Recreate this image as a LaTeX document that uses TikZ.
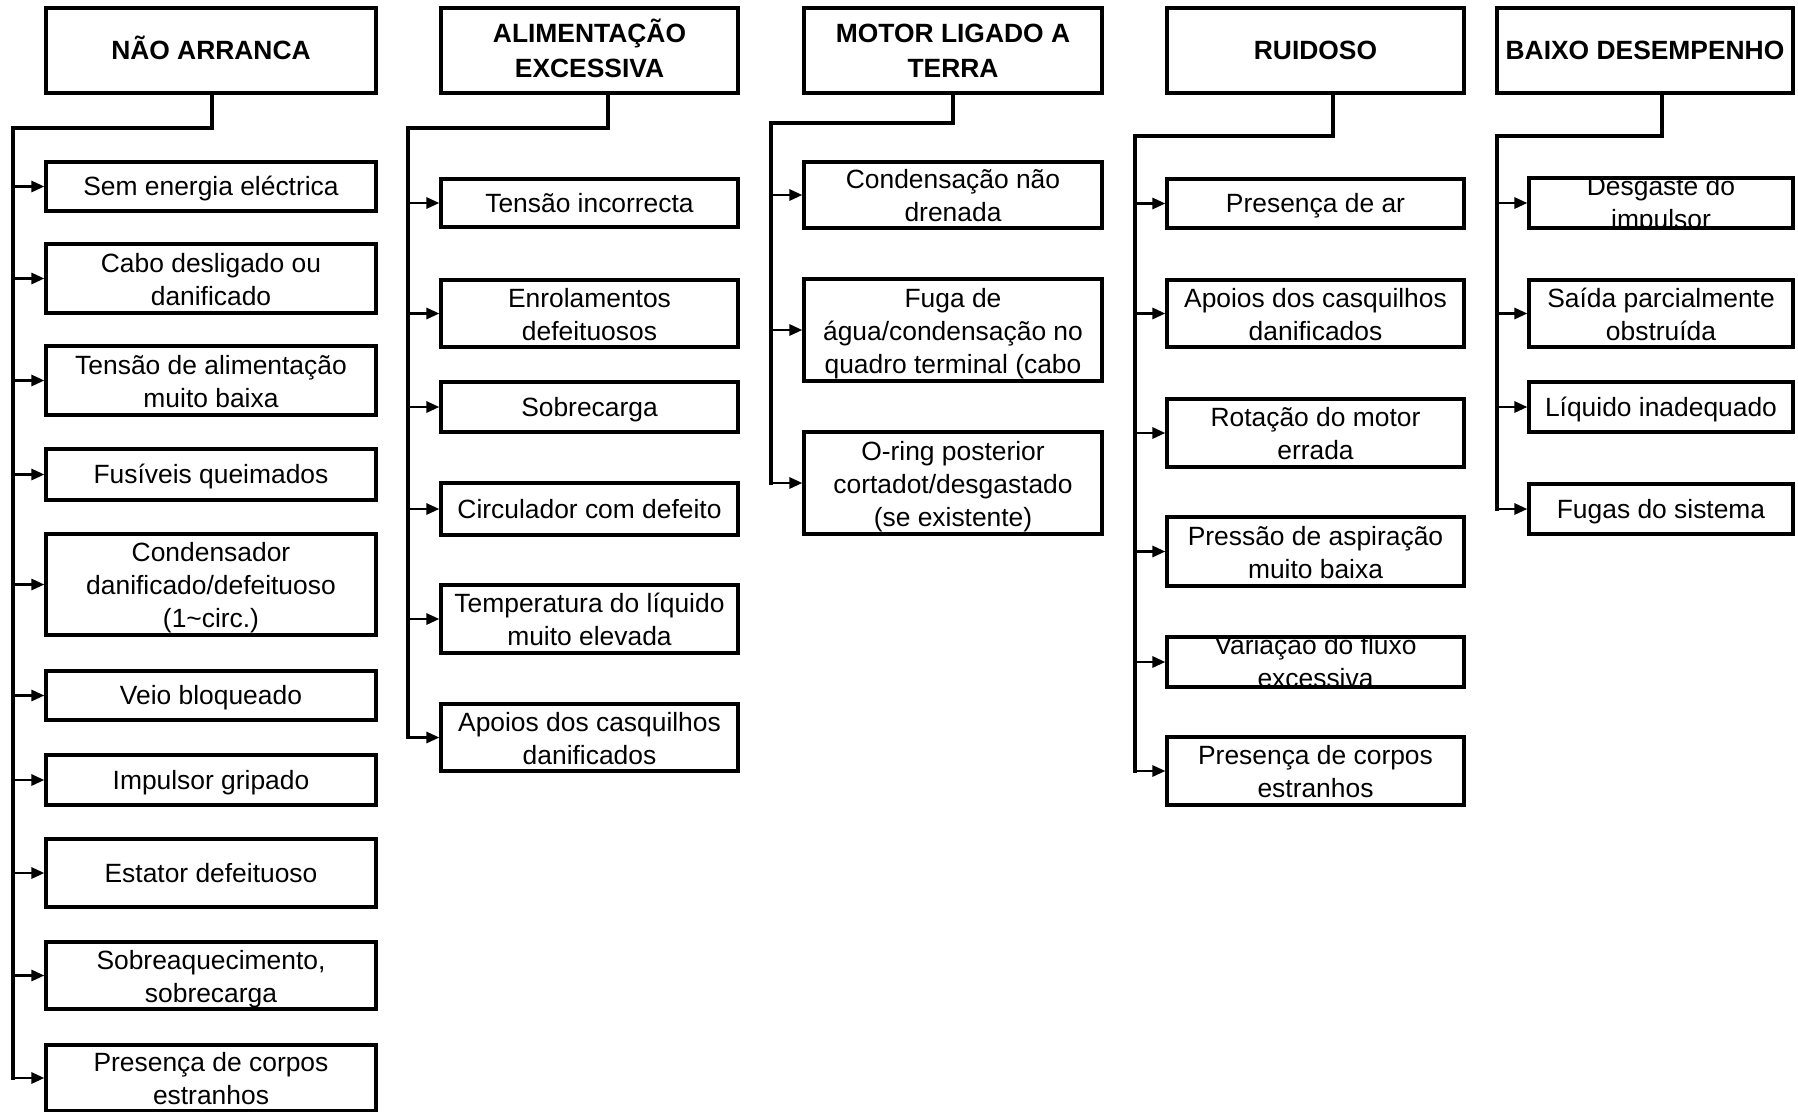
\documentclass[tikz,border=0pt]{standalone}
\usepackage{fontspec}
\setmainfont{Liberation Sans}
\usepackage{tikz}
\usetikzlibrary{%
  calc,
  positioning,
  arrows.meta,
}

% invisible first-line strut of the boxes with more lines
\newcommand{\lineup}[1][26.5pt]{\rule{0pt}{#1}}

\tikzset{
  cause/.style={draw, line width=3.2pt, inner sep=0pt, align=center,
    minimum width=#1,
    execute at begin node={\rule[-0.212em]{0pt}{1.117em}},
    execute at end node={\rule[-0.212em]{0pt}{1.117em}}},
  cause/.default=297pt,
  head/.style={cause=#1, minimum height=85pt,
    font=\fontsize{26.4}{35}\bfseries\selectfont},
  head/.default=297pt,
  link/.style={line width=3.2pt, line cap=rect},
  tip/.style={line width=2.9pt},
  cuttext/.style={path picture={\node[align=center]
      at (path picture bounding box.center) {#1};}},
  >={Triangle[length=13pt,width=11pt]},
}

\begin{document}
\begin{tikzpicture}[x=1pt, y=-1pt, font=\fontsize{26.4}{33}\selectfont]
  \useasboundingbox (0,0) rectangle (1798,1111);
  % units = pixels of the sheet, y goes down

  % NAO ARRANCA
  \node[head=330pt] (h1) at (211,50.5) {NÃO ARRANCA};
  \node[cause=330pt, minimum height=49pt] (a1) at (211,186.5) {Sem energia eléctrica};
  \node[cause=330pt, minimum height=69pt] (a2) at (211,278.5) {\lineup Cabo desligado ou\\danificado};
  \node[cause=330pt, minimum height=69pt] (a3) at (211,380.5) {\lineup Tensão de alimentação\\muito baixa};
  \node[cause=330pt, minimum height=51pt] (a4) at (211,474.5) {Fusíveis queimados};
  \node[cause=330pt, minimum height=101pt] (a5) at (211,584.5)
    {\lineup Condensador\\danificado/defeituoso\\(1\textasciitilde circ.)};
  \node[cause=330pt, minimum height=49pt] (a6) at (211,695.5) {Veio bloqueado};
  \node[cause=330pt, minimum height=50pt] (a7) at (211,780) {Impulsor gripado};
  \node[cause=330pt, minimum height=68pt] (a8) at (211,873) {Estator defeituoso};
  \node[cause=330pt, minimum height=67pt] (a9) at (211,975.5) {\lineup Sobreaquecimento,\\sobrecarga};
  \node[cause=330pt, minimum height=66pt] (a10) at (211,1078) {\lineup Presença de corpos\\estranhos};

  \coordinate (k1) at (212,128);
  \coordinate (t1) at (13,128);
  \draw[link] (k1 |- h1.south) -- (k1) -- (t1) -- (t1 |- a10.west);
  \foreach \i in {1,...,10}
    \draw[tip, ->] (t1 |- a\i.west) -- (a\i.west);

  % ALIMENTACAO EXCESSIVA
  \node[head] (h2) at (589.5,50.5) {\lineup[25pt]ALIMENTAÇÃO\\EXCESSIVA};
  \node[cause, minimum height=48pt] (b1) at (589.5,203) {Tensão incorrecta};
  \node[cause, minimum height=67pt] (b2) at (589.5,313.5) {\lineup Enrolamentos\\defeituosos};
  \node[cause, minimum height=50pt] (b3) at (589.5,407) {Sobrecarga};
  \node[cause, minimum height=52pt] (b4) at (589.5,509) {Circulador com defeito};
  \node[cause, minimum height=68pt] (b5) at (589.5,619) {\lineup Temperatura do líquido\\muito elevada};
  \node[cause, minimum height=67pt] (b6) at (589.5,737.5) {\lineup Apoios dos casquilhos\\danificados};

  \coordinate (k2) at (608,128);
  \coordinate (t2) at (408,128);
  \draw[link] (k2 |- h2.south) -- (k2) -- (t2) -- (t2 |- b6.west);
  \foreach \i in {1,...,6}
    \draw[tip, ->] (t2 |- b\i.west) -- (b\i.west);

  % MOTOR LIGADO A TERRA
  \node[head=298pt] (h3) at (953,50.5) {\lineup[25pt]MOTOR LIGADO A\\TERRA};
  \node[cause=298pt, minimum height=66pt] (c1) at (953,195) {\lineup Condensação não\\drenada};
  \node[cause=298pt, minimum height=102pt] (c2) at (953,330)
    {\lineup Fuga de\\água/condensação no\\quadro terminal (cabo};
  \node[cause=298pt, minimum height=102pt] (c3) at (953,483)
    {\lineup O-ring posterior\\cortadot/desgastado\\(se existente)};

  \coordinate (k3) at (953,123);
  \coordinate (t3) at (771,123);
  \draw[link] (k3 |- h3.south) -- (k3) -- (t3) -- (t3 |- c3.west);
  \foreach \i in {1,...,3}
    \draw[tip, ->] (t3 |- c\i.west) -- (c\i.west);

  % RUIDOSO
  \node[head] (h4) at (1315.5,50.5) {RUIDOSO};
  \node[cause, minimum height=49pt] (d1) at (1315.5,203.5) {Presença de ar};
  \node[cause, minimum height=67pt] (d2) at (1315.5,313.5) {\lineup Apoios dos casquilhos\\danificados};
  \node[cause, minimum height=68pt] (d3) at (1315.5,433) {\lineup Rotação do motor\\errada};
  \node[cause, minimum height=69pt] (d4) at (1315.5,551.5) {\lineup Pressão de aspiração\\muito baixa};
  \node[cause, minimum height=50pt,
    cuttext={\lineup[24pt]Variação do fluxo\\excessiva}] (d5) at (1315.5,662) {};
  \node[cause, minimum height=68pt] (d6) at (1315.5,771) {\lineup Presença de corpos\\estranhos};

  \coordinate (k4) at (1333,136);
  \coordinate (t4) at (1135,136);
  \draw[link] (k4 |- h4.south) -- (k4) -- (t4) -- (t4 |- d6.west);
  \foreach \i in {1,...,6}
    \draw[tip, ->] (t4 |- d\i.west) -- (d\i.west);

  % BAIXO DESEMPENHO
  \node[head=296pt] (h5) at (1645,50.5) {BAIXO DESEMPENHO};
  \node[cause=264pt, minimum height=50pt,
    cuttext={\lineup[24pt]Desgaste do\\impulsor}] (e1) at (1661,203) {};
  \node[cause=264pt, minimum height=67pt] (e2) at (1661,313.5) {\lineup Saída parcialmente\\obstruída};
  \node[cause=264pt, minimum height=50pt] (e3) at (1661,407) {Líquido inadequado};
  \node[cause=264pt, minimum height=50pt] (e4) at (1661,509) {Fugas do sistema};

  \coordinate (k5) at (1662,136);
  \coordinate (t5) at (1497,136);
  \draw[link] (k5 |- h5.south) -- (k5) -- (t5) -- (t5 |- e4.west);
  \foreach \i in {1,...,4}
    \draw[tip, ->] (t5 |- e\i.west) -- (e\i.west);
\end{tikzpicture}
\end{document}
